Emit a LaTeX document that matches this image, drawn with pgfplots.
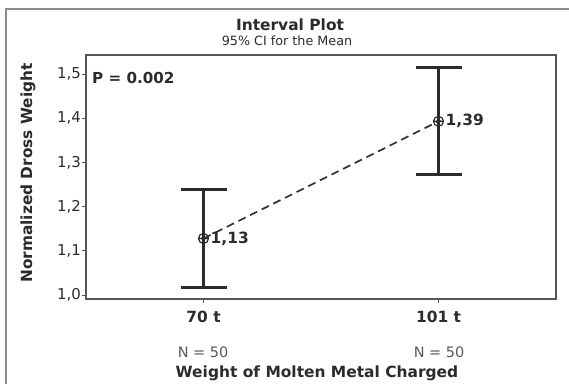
\documentclass[border=0pt]{standalone}
\usepackage{pgfplots}
\pgfplotsset{compat=1.18}
\usepackage{fontspec}
\setmainfont{DejaVu Sans}
\definecolor{ink}{HTML}{2B2B2B}
\definecolor{frame}{HTML}{555555}
\begin{document}
\begin{tikzpicture}[x=1bp,y=1bp]
\useasboundingbox (0,0) rectangle (569,-383);
\draw[line width=1.5bp, color=black!45] (6,-390) -- (6,-9) -- (575,-9);
\begin{axis}[at={(86bp,-299bp)}, anchor=south west, scale only axis,
  width=470bp, height=244bp,
  xmin=-0.5, xmax=1.5, ymin=0.991, ymax=1.543,
  xtick={0,1}, xticklabels={70 t, 101 t},
  ytick={1.0,1.1,1.2,1.3,1.4,1.5},
  xtick pos=bottom, ytick pos=left,
  tick align=outside, major tick length=4bp,
  axis line style={line width=1.6bp, color=frame},
  tick style={line width=1bp, color=frame},
  /pgf/number format/assume math mode=true,
  yticklabel style={font=\fontsize{15}{17}\selectfont, inner sep=1bp, color=ink,
    /pgf/number format/.cd, fixed, fixed zerofill, precision=1, use comma},
  xticklabel style={font=\bfseries\fontsize{15.5}{18}\selectfont, color=ink, yshift=-5bp},
  clip=false]
\addplot[color=ink, only marks, mark=none,
  error bars/.cd, y dir=both, y explicit,
  error bar style={line width=3bp, color=ink},
  error mark options={rotate=90, mark size=23bp, line width=3bp, color=ink}]
  coordinates {(0,1.128) +- (0,0.111) (1,1.393) +- (0,0.121)};
\addplot[color=black!80, line width=1.7bp, dash pattern=on 8bp off 5bp]
  coordinates {(0,1.128) (1,1.393)};
\addplot[color=ink, only marks, mark=oplus, mark size=5bp, mark options={line width=1.2bp}]
  coordinates {(0,1.128) (1,1.393)};
\node[anchor=west, inner sep=0pt, xshift=7bp, color=ink, font=\bfseries\fontsize{15.5}{18}\selectfont] at (axis cs:0,1.128) {1,13};
\node[anchor=west, inner sep=0pt, xshift=7bp, color=ink, font=\bfseries\fontsize{15.5}{18}\selectfont] at (axis cs:1,1.393) {1,39};
\end{axis}
\node[anchor=base, font=\bfseries\fontsize{15.5}{18}\selectfont, color=ink] at (290,-30) {Interval Plot};
\node[anchor=base, font=\fontsize{12.8}{15}\selectfont, color=ink] at (287,-45) {95\% CI for the Mean};
\node[anchor=west, inner sep=0pt, font=\bfseries\fontsize{15.2}{18}\selectfont, color=ink] at (92,-77.5) {P = 0.002};
\node[rotate=90, font=\bfseries\fontsize{15.4}{18}\selectfont, color=ink] at (28,-173) {Normalized Dross Weight};
\node[font=\fontsize{14.5}{16}\selectfont, color=black!65] at (203,-352) {N = 50};
\node[font=\fontsize{14.5}{16}\selectfont, color=black!65] at (439,-352) {N = 50};
\node[font=\bfseries\fontsize{15.5}{18}\selectfont, color=ink] at (317,-373) {Weight of Molten Metal Charged};
\end{tikzpicture}
\end{document}
